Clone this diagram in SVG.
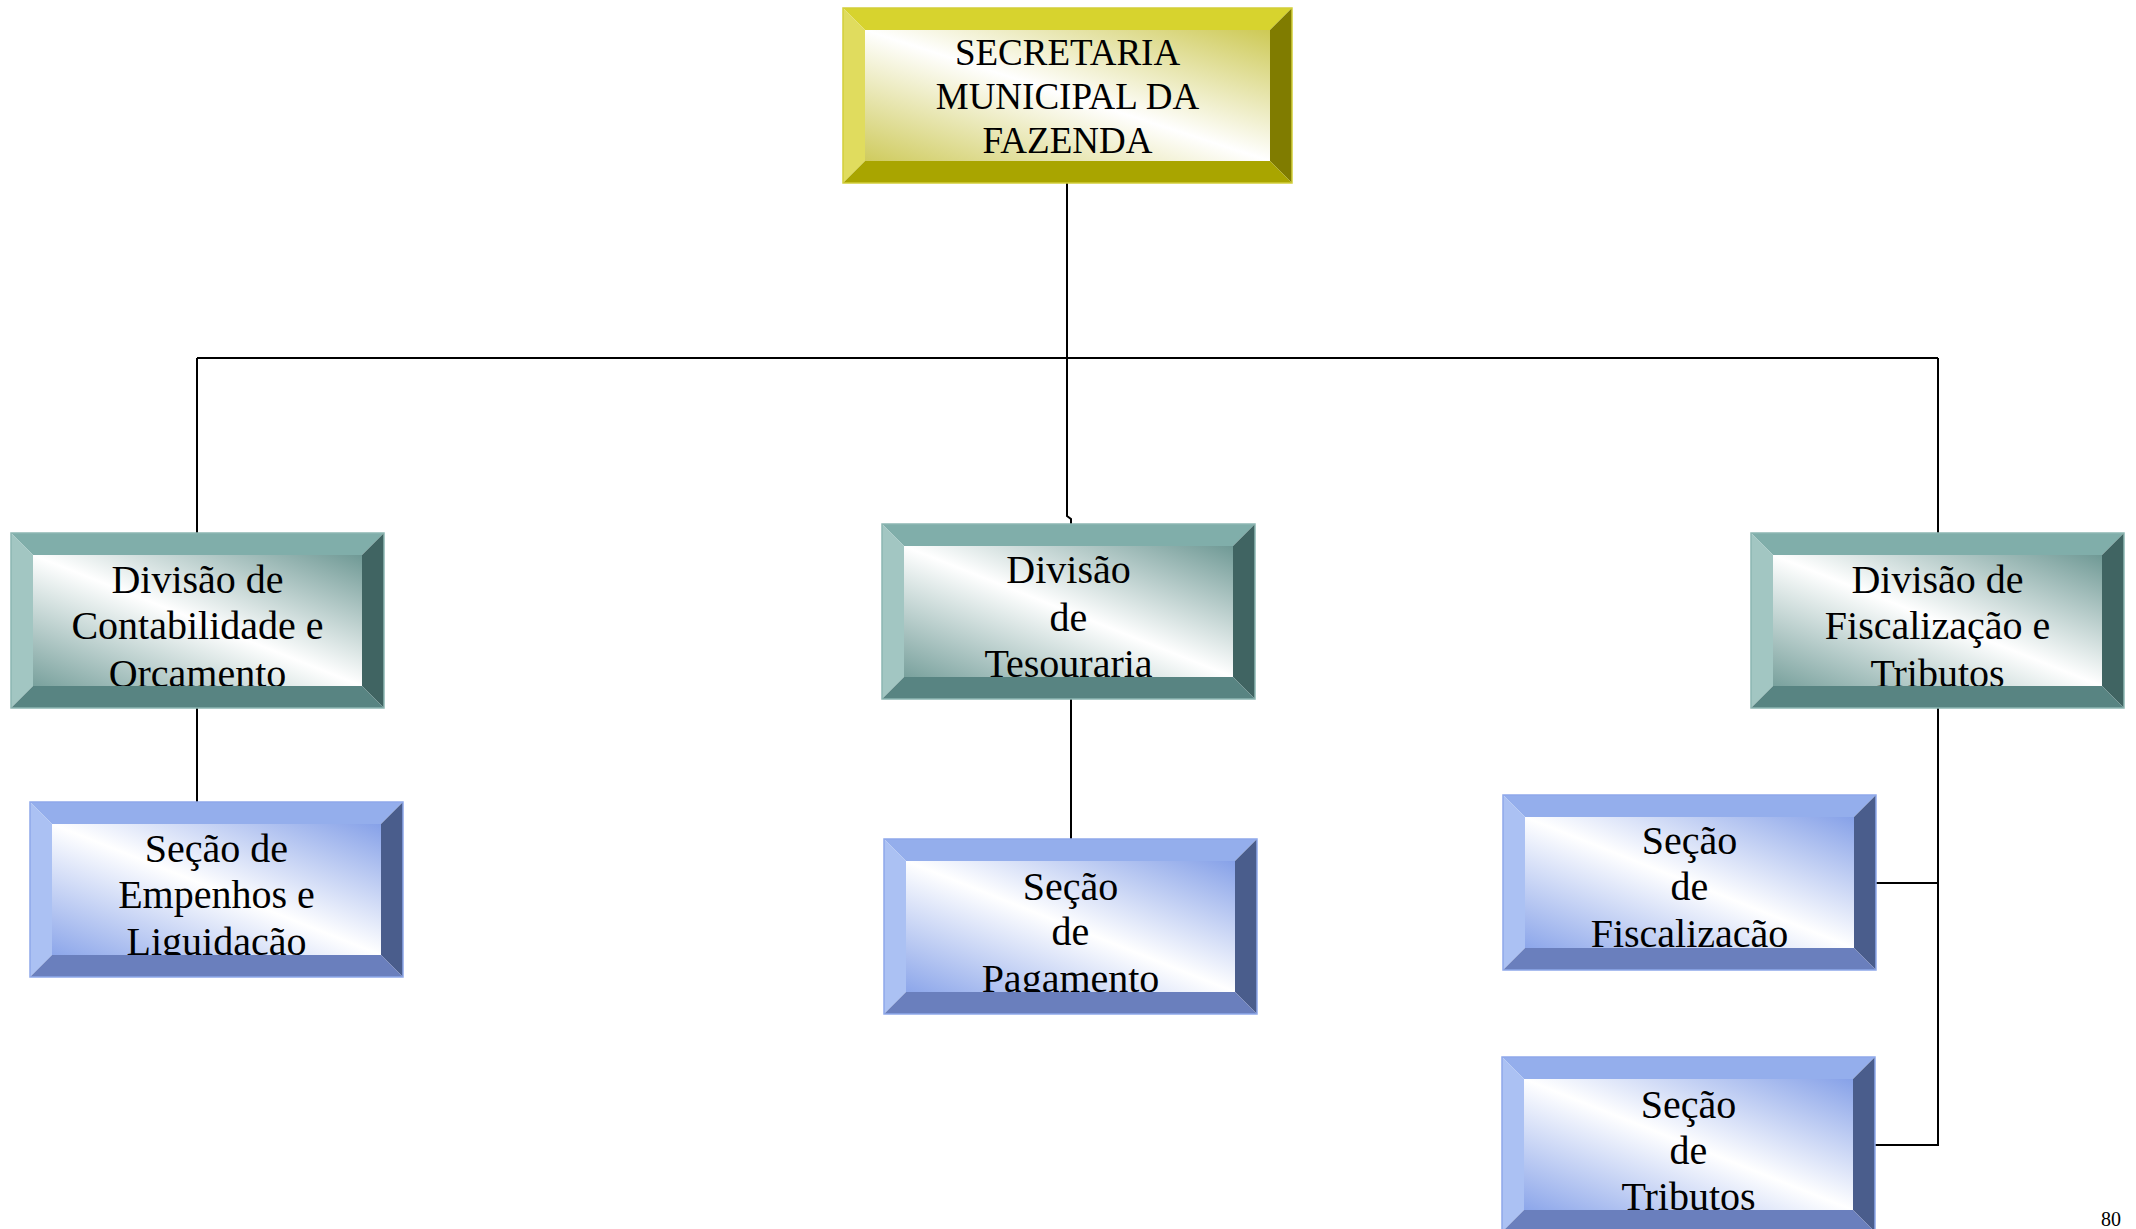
<svg xmlns="http://www.w3.org/2000/svg" width="2136" height="1229" viewBox="0 0 2136 1229">
<defs>
<linearGradient id="gY" x1="1" y1="0" x2="0" y2="1">
<stop offset="0" stop-color="#cdc955"/><stop offset="0.5" stop-color="#ffffff"/><stop offset="1" stop-color="#cfcb5e"/>
</linearGradient>
<linearGradient id="gT" x1="1" y1="0" x2="0" y2="1">
<stop offset="0" stop-color="#6f9995"/><stop offset="0.5" stop-color="#ffffff"/><stop offset="1" stop-color="#79a19d"/>
</linearGradient>
<linearGradient id="gB" x1="1" y1="0" x2="0" y2="1">
<stop offset="0" stop-color="#86a1e8"/><stop offset="0.5" stop-color="#ffffff"/><stop offset="1" stop-color="#8ca6ea"/>
</linearGradient>
<style>
.t{font-family:"Liberation Serif","Times New Roman",serif;font-size:40px;fill:#000;text-anchor:middle}
.tt{font-family:"Liberation Serif","Times New Roman",serif;font-size:37px;fill:#000;text-anchor:middle}
.ln{fill:none;stroke:#000;stroke-width:2}
.yT{fill:#d7d32e}.yL{fill:#e0dc5e}.yR{fill:#807c00}.yB{fill:#a9a500}.yO{fill:none;stroke:#d2ce3a;stroke-width:1.5}
.cT{fill:#80aeaa}.cL{fill:#a2c6c2}.cR{fill:#406462}.cB{fill:#588482}.cO{fill:none;stroke:#8cb6b2;stroke-width:1.5}
.bT{fill:#94aeec}.bL{fill:#abc1f3}.bR{fill:#4a5d8c}.bB{fill:#6a7fbd}.bO{fill:none;stroke:#8ea8ea;stroke-width:1.5}
.pg{font-family:"Liberation Serif","Times New Roman",serif;font-size:20px;fill:#000}
</style>
</defs>
<rect width="2136" height="1229" fill="#ffffff"/>

<g id="connectors">
<polyline class="ln" points="1067,183 1067,516 1071,519 1071,524"/>
<line class="ln" x1="197" y1="358" x2="1938" y2="358"/>
<line class="ln" x1="197" y1="358" x2="197" y2="533"/>
<line class="ln" x1="1938" y1="358" x2="1938" y2="533"/>
<line class="ln" x1="197" y1="708" x2="197" y2="802"/>
<line class="ln" x1="1071" y1="699" x2="1071" y2="839"/>
<polyline class="ln" points="1938,708 1938,1145 1875,1145"/>
<line class="ln" x1="1876" y1="883" x2="1938" y2="883"/>
</g>

<g id="secretaria" transform="translate(843,8)">
<rect x="22" y="22" width="405" height="131" fill="url(#gY)"/>
<text class="tt" x="224.5" y="57">SECRETARIA</text>
<text class="tt" x="224.5" y="101">MUNICIPAL DA</text>
<text class="tt" x="224.5" y="145">FAZENDA</text>
<polygon class="yT" points="0,0 449,0 427,22 22,22"/>
<polygon class="yL" points="0,0 22,22 22,153 0,175"/>
<polygon class="yR" points="449,0 449,175 427,153 427,22"/>
<polygon class="yB" points="0,175 22,153 427,153 449,175"/>
<rect class="yO" x="0" y="0" width="449" height="175"/>
</g>

<g id="div-contabilidade" transform="translate(11,533)">
<rect x="22" y="22" width="329" height="131" fill="url(#gT)"/>
<text class="t" x="186.5" y="60">Divisão de</text>
<text class="t" x="186.5" y="106">Contabilidade e</text>
<text class="t" x="186.5" y="154">Orcamento</text>
<polygon class="cT" points="0,0 373,0 351,22 22,22"/>
<polygon class="cL" points="0,0 22,22 22,153 0,175"/>
<polygon class="cR" points="373,0 373,175 351,153 351,22"/>
<polygon class="cB" points="0,175 22,153 351,153 373,175"/>
<rect class="cO" x="0" y="0" width="373" height="175"/>
</g>

<g id="div-tesouraria" transform="translate(882,524)">
<rect x="22" y="22" width="329" height="131" fill="url(#gT)"/>
<text class="t" x="186.5" y="59">Divisão</text>
<text class="t" x="186.5" y="107">de</text>
<text class="t" x="186.5" y="153">Tesouraria</text>
<polygon class="cT" points="0,0 373,0 351,22 22,22"/>
<polygon class="cL" points="0,0 22,22 22,153 0,175"/>
<polygon class="cR" points="373,0 373,175 351,153 351,22"/>
<polygon class="cB" points="0,175 22,153 351,153 373,175"/>
<rect class="cO" x="0" y="0" width="373" height="175"/>
</g>

<g id="div-fiscalizacao" transform="translate(1751,533)">
<rect x="22" y="22" width="329" height="131" fill="url(#gT)"/>
<text class="t" x="186.5" y="60">Divisão de</text>
<text class="t" x="186.5" y="106">Fiscalização e</text>
<text class="t" x="186.5" y="154">Tributos</text>
<polygon class="cT" points="0,0 373,0 351,22 22,22"/>
<polygon class="cL" points="0,0 22,22 22,153 0,175"/>
<polygon class="cR" points="373,0 373,175 351,153 351,22"/>
<polygon class="cB" points="0,175 22,153 351,153 373,175"/>
<rect class="cO" x="0" y="0" width="373" height="175"/>
</g>

<g id="secao-empenhos" transform="translate(30,802)">
<rect x="22" y="22" width="329" height="131" fill="url(#gB)"/>
<text class="t" x="186.5" y="60">Seção de</text>
<text class="t" x="186.5" y="106">Empenhos e</text>
<text class="t" x="186.5" y="153">Liguidação</text>
<polygon class="bT" points="0,0 373,0 351,22 22,22"/>
<polygon class="bL" points="0,0 22,22 22,153 0,175"/>
<polygon class="bR" points="373,0 373,175 351,153 351,22"/>
<polygon class="bB" points="0,175 22,153 351,153 373,175"/>
<rect class="bO" x="0" y="0" width="373" height="175"/>
</g>

<g id="secao-pagamento" transform="translate(884,839)">
<rect x="22" y="22" width="329" height="131" fill="url(#gB)"/>
<text class="t" x="186.5" y="61">Seção</text>
<text class="t" x="186.5" y="106">de</text>
<text class="t" x="186.5" y="153">Pagamento</text>
<polygon class="bT" points="0,0 373,0 351,22 22,22"/>
<polygon class="bL" points="0,0 22,22 22,153 0,175"/>
<polygon class="bR" points="373,0 373,175 351,153 351,22"/>
<polygon class="bB" points="0,175 22,153 351,153 373,175"/>
<rect class="bO" x="0" y="0" width="373" height="175"/>
</g>

<g id="secao-fiscalizacao" transform="translate(1503,795)">
<rect x="22" y="22" width="329" height="131" fill="url(#gB)"/>
<text class="t" x="186.5" y="59">Seção</text>
<text class="t" x="186.5" y="105">de</text>
<text class="t" x="186.5" y="152">Fiscalizacão</text>
<polygon class="bT" points="0,0 373,0 351,22 22,22"/>
<polygon class="bL" points="0,0 22,22 22,153 0,175"/>
<polygon class="bR" points="373,0 373,175 351,153 351,22"/>
<polygon class="bB" points="0,175 22,153 351,153 373,175"/>
<rect class="bO" x="0" y="0" width="373" height="175"/>
</g>

<g id="secao-tributos" transform="translate(1502,1057)">
<rect x="22" y="22" width="329" height="131" fill="url(#gB)"/>
<text class="t" x="186.5" y="61">Seção</text>
<text class="t" x="186.5" y="107">de</text>
<text class="t" x="186.5" y="153">Tributos</text>
<polygon class="bT" points="0,0 373,0 351,22 22,22"/>
<polygon class="bL" points="0,0 22,22 22,153 0,175"/>
<polygon class="bR" points="373,0 373,175 351,153 351,22"/>
<polygon class="bB" points="0,175 22,153 351,153 373,175"/>
<rect class="bO" x="0" y="0" width="373" height="175"/>
</g>

<text class="pg" x="2101" y="1226">80</text>
</svg>
